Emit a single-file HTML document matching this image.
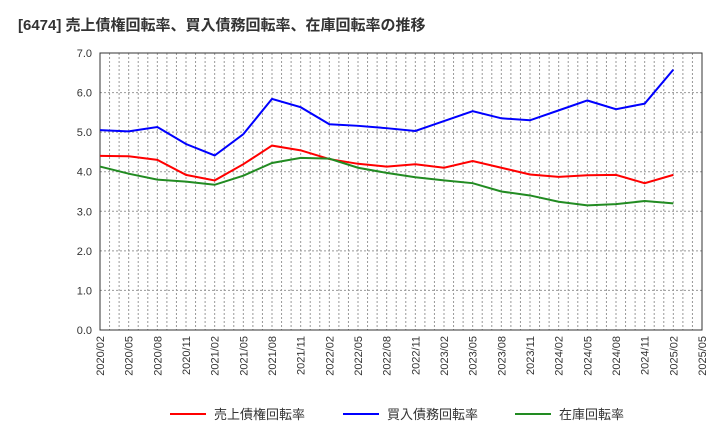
<!DOCTYPE html>
<html><head><meta charset="utf-8"><style>
body{margin:0;background:#fff;font-family:"Liberation Sans","Noto Sans CJK JP",sans-serif;}
svg text{font-family:"Liberation Sans","Noto Sans CJK JP",sans-serif;}
</style></head><body>
<svg id="c" width="720" height="440">
<text x="18" y="30" font-size="15" font-weight="bold" fill="#333">[6474]  売上債権回転率、買入債務回転率、在庫回転率の推移</text>
<g id="grid"></g><g id="axes"></g><g id="series"></g><g id="legend"></g>
</svg>
<script>
const categories=["2020/02","2020/05","2020/08","2020/11","2021/02","2021/05","2021/08","2021/11","2022/02","2022/05","2022/08","2022/11","2023/02","2023/05","2023/08","2023/11","2024/02","2024/05","2024/08","2024/11","2025/02","2025/05"];
const yTicks=[0,1,2,3,4,5,6,7];
const receivables=[4.40,4.39,4.30,3.92,3.78,4.19,4.66,4.54,4.32,4.20,4.13,4.19,4.10,4.27,4.10,3.93,3.87,3.91,3.92,3.71,3.92];
const payables=[5.05,5.02,5.13,4.70,4.41,4.95,5.84,5.63,5.20,5.16,5.10,5.03,5.28,5.53,5.35,5.30,5.55,5.80,5.58,5.72,6.58];
const inventory=[4.13,3.95,3.80,3.75,3.67,3.90,4.22,4.35,4.33,4.10,3.97,3.86,3.78,3.71,3.50,3.40,3.24,3.15,3.18,3.26,3.20];
const L=100,R=702,T=53,B=330,NS="http://www.w3.org/2000/svg";
const x=i=>L+(R-L)*i/(categories.length-1);
const y=v=>B-(B-T)*v/7;
function mk(t,a,p){const e=document.createElementNS(NS,t);for(const k in a)e.setAttribute(k,a[k]);p.appendChild(e);return e;}
const g=document.getElementById('grid'),ax=document.getElementById('axes'),s=document.getElementById('series'),lg=document.getElementById('legend');
for(let m=0;m<=63;m++){const xx=L+(R-L)*m/63;
const ln=mk('line',{x1:xx,x2:xx,y1:T,y2:B,stroke:'#999','stroke-dasharray':'2,2','stroke-width':1},g);

}
yTicks.forEach(v=>{const ln=mk('line',{x1:L,x2:R,y1:y(v),y2:y(v),stroke:'#999','stroke-dasharray':'2,2'},g);


const t=mk('text',{x:L-8,y:y(v)+4,'text-anchor':'end','font-size':11,fill:'#333'},ax);t.textContent=v.toFixed(1);

});
const fr=mk('rect',{x:L,y:T,width:R-L,height:B-T,fill:'none',stroke:'#333'},ax);


categories.forEach((c,i)=>{const t=mk('text',{transform:`translate(${x(i)+4},${B+6}) rotate(-90)`,'text-anchor':'end','font-size':11,fill:'#333'},ax);t.textContent=c;

});
[[receivables,'#f00','receivables-line'],[payables,'#00f','payables-line'],[inventory,'#228b22','inventory-line']].forEach(([d,col,n])=>{
const p=mk('polyline',{points:d.map((v,i)=>x(i)+','+y(v)).join(' '),fill:'none',stroke:col,'stroke-width':2},s);

});
[['売上債権回転率','#f00',170],['買入債務回転率','#00f',343],['在庫回転率','#228b22',515]].forEach(([n,col,lx])=>{
const l=mk('line',{x1:lx,x2:lx+36,y1:414,y2:414,stroke:col,'stroke-width':2},lg);


const t=mk('text',{x:lx+44,y:419,'font-size':13,fill:'#333'},lg);t.textContent=n;

});
</script>
</body></html>
